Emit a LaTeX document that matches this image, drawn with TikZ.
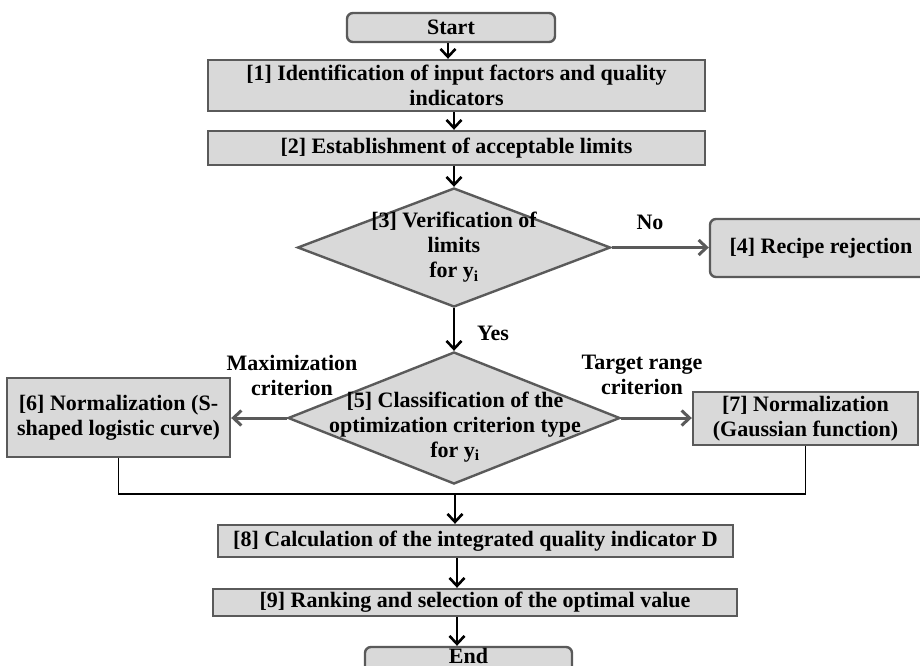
\documentclass[tikz,border=0pt]{standalone}
\usepackage{fontspec}
\setmainfont{Liberation Serif}
\usepackage{tikz}
\usepackage{xcolor}
\usetikzlibrary{arrows.meta, positioning, shapes.geometric}

\definecolor{boxfill}{HTML}{D9D9D9}
\definecolor{boxline}{HTML}{5A5A5A}

\begin{document}
\begin{tikzpicture}[
        x=1pt, y=-1pt,
        every node/.style={font=\fontsize{22}{25}\selectfont\bfseries, inner sep=0pt, align=center},
        process/.style={draw=boxline, fill=boxfill, line width=2.4pt},
        terminal/.style={process, rounded corners=6pt},
        decision/.style={diamond, draw=boxline, fill=boxfill, line width=2.4pt},
        arr/.style={draw=black, line width=2.6pt, -{Straight Barb[length=8pt,width=15pt]}},
        grayarr/.style={draw=boxline, line width=3pt, -{Straight Barb[length=8pt,width=15pt]}},
        mergeline/.style={draw=black, line width=1.4pt}
    ]
    \useasboundingbox (0,0) rectangle (920,665);
    \clip (0,0) rectangle (920,665);

    % Start and End
    \node[terminal, minimum width=208pt, minimum height=29pt] (start) at (451,27.5) {Start};
    \node[terminal, minimum width=207pt, minimum height=33pt, text depth=16pt] (stop) at (468.5,663.5) {End};

    % Process Boxes
    \node[process, minimum width=497pt, minimum height=51pt] (b1) at (456.5,85.5) {[1] Identification of input factors and quality\\indicators};
    \node[process, minimum width=497pt, minimum height=34pt] (b2) at (456.5,148) {[2] Establishment of acceptable limits};
    \node[terminal, minimum width=222pt, minimum height=58pt] (b4) at (821,248) {[4] Recipe rejection};
    \node[process, minimum width=223pt, minimum height=79pt] (b6) at (118.5,417.5) {[6] Normalization (S-\\shaped logistic curve)};
    \node[process, minimum width=225pt, minimum height=53pt] (b7) at (805.5,418.5) {[7] Normalization\\(Gaussian function)};
    \node[process, minimum width=515pt, minimum height=32pt] (b8) at (475.5,541) {[8] Calculation of the integrated quality indicator D};
    \node[process, minimum width=524pt, minimum height=27pt] (b9) at (475,602.5) {[9] Ranking and selection of the optimal value};

    % Decision Nodes
    \node[decision, minimum width=313pt, minimum height=119pt] (d3) at (454,247.5) {};
    \node (d3text) at (d3.center) {[3] Verification of\\limits\\for y\textsubscript{i}};
    \node[decision, minimum width=332pt, minimum height=132pt] (d5) at (454,418) {};
    \node (d5text) at (455,427) {[5] Classification of the\\optimization criterion type\\for y\textsubscript{i}};

    % Branch Labels
    \node (no) at (650,222) {No};
    \node (yes) at (493,333) {Yes};
    \node (maxlbl) at (292,375) {Maximization\\criterion};
    \node (targetlbl) at (642,375) {Target range\\criterion};

    % Arrow Columns
    \coordinate (colA) at (448,0);
    \coordinate (colB) at (457,0);

    % Draw Arrows
    \draw[arr] (start.south -| colA) -- (b1.north -| colA);
    \draw[arr] (b1.south -| d3.north) -- (b2.north -| d3.north);
    \draw[arr] (b2.south -| d3.north) -- (d3.north);
    \draw[grayarr] (d3.east) -- (d3.east -| b4.west);
    \draw[arr] (d3.south) -- (d5.north);
    \draw[grayarr] (d5.west) -- (d5.west -| b6.east);
    \draw[grayarr] (d5.east) -- (d5.east -| b7.west);

    % Merge Line
    \coordinate (merge) at (455,494);
    \draw[mergeline] (b6.south) |- (merge) -| (b7.south);
    \draw[arr] (merge) -- (merge |- b8.north);
    \draw[arr] (b8.south -| colB) -- (b9.north -| colB);
    \draw[arr] (b9.south -| colB) -- (stop.north -| colB);

\end{tikzpicture}
\end{document}
